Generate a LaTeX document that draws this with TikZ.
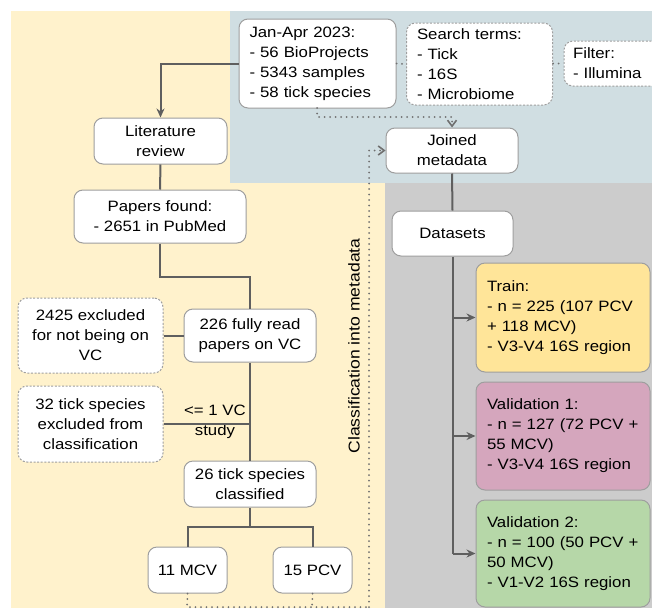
\documentclass[tikz,border=0pt]{standalone}
\usepackage{fontspec}
\setmainfont{Liberation Sans}[FakeStretch=1.12]
\usetikzlibrary{arrows.meta}
\definecolor{bgyellow}{HTML}{FFF2CC}
\definecolor{bgblue}{HTML}{D0DEE2}
\definecolor{bggray}{HTML}{CCCCCC}
\definecolor{linecol}{HTML}{5F5F5F}
\definecolor{bordercol}{HTML}{9E9E9E}
\definecolor{dotcol}{HTML}{707070}
\definecolor{trainfill}{HTML}{FFE599}
\definecolor{valonefill}{HTML}{D5A6BD}
\definecolor{valtwofill}{HTML}{B6D7A8}
\begin{document}
\begin{tikzpicture}[x=1pt,y=-1pt,
  every node/.style={font=\fontsize{15}{20}\selectfont},
  box/.style={draw=bordercol, fill=white, line width=1, rounded corners=9,
    inner sep=0, align=center},
  dbox/.style={box, dash pattern=on 2 off 1.6},
  lbox/.style={box, align=left, text width=#1, inner xsep=10.5},
  flow/.style={draw=linecol, line width=2},
  flowarrow/.style={flow, -{Stealth[length=9, width=8]}},
  dots/.style={draw=dotcol, line width=2, line cap=round, dash pattern=on 0 off 5.5},
  dotarrow/.style={dots, -{Straight Barb[length=6, width=9, line width=1.6]}}
]
\useasboundingbox (0,0) rectangle (652,608);
\fill[bgyellow] (11,11) rectangle (385,608);
\fill[bgblue] (230,11) rectangle (652,183);
\fill[bggray] (385,183) rectangle (652,608);

% top row
\node[lbox=136, minimum height=89] (jan) at (317.5,63.5)
  {Jan-Apr 2023:\\- 56 BioProjects\\- 5343 samples\\- 58 tick species};
\node[lbox=125, minimum height=82, dash pattern=on 2 off 1.6] (search) at (479.5,64)
  {Search terms:\\- Tick\\- 16S\\- Microbiome};
\node[lbox=82, minimum height=45, dash pattern=on 2 off 1.6, inner xsep=9] (filter) at (614,63.5)
  {Filter:\\- Illumina};
\node[box, minimum width=132, minimum height=45] (joined) at (452,150.5) {Joined\\metadata};

% literature branch
\node[box, minimum width=133, minimum height=46] (lit) at (160.5,141) {Literature\\review};
\node[box, minimum width=172, minimum height=53] (papers) at (160,216.5) {Papers found:\\- 2651 in PubMed};
\node[box, minimum width=132, minimum height=53] (read) at (250,335.5) {226 fully read\\papers on VC};
\node[dbox, minimum width=145, minimum height=75] (excla) at (90.5,335.5) {2425 excluded\\for not being on\\VC};
\node[dbox, minimum width=145, minimum height=76] (exclb) at (90.5,424) {32 tick species\\excluded from\\classification};
\node[box, minimum width=132, minimum height=46] (tick) at (250,484) {26 tick species\\classified};
\node[box, minimum width=79, minimum height=46] (mcv) at (187.5,570) {11 MCV};
\node[box, minimum width=79, minimum height=46] (pcv) at (312.5,570) {15 PCV};
\node (vclabel) at (215,421.5) [align=center, inner sep=0] {<= 1 VC\\study};
\node (classlabel) at (354,346) [rotate=90, inner sep=0, font=\fontsize{15.7}{20}\selectfont] {Classification into metadata};

% datasets
\node[box, minimum width=121, minimum height=45] (datasets) at (452.5,233.5) {Datasets};
\node[lbox=152, minimum height=109, fill=trainfill, inner xsep=11] (train) at (563,317.5)
  {Train:\\- n = 225 (107 PCV\\+ 118 MCV)\\- V3-V4 16S region};
\node[lbox=152, minimum height=108, fill=valonefill, inner xsep=11] (valone) at (563,436)
  {Validation 1:\\- n = 127 (72 PCV +\\55 MCV)\\- V3-V4 16S region};
\node[lbox=152, minimum height=107, fill=valtwofill, inner xsep=11] (valtwo) at (563,553.5)
  {Validation 2:\\- n = 100 (50 PCV +\\50 MCV)\\- V1-V2 16S region};

% coordinates
\coordinate (papersbend) at (160,277);
\coordinate (tickbend) at (250,527);
\coordinate (janout) at (317,108);
\coordinate (janbend) at (317,117);
\coordinate (mcvdown) at (187,607);
\coordinate (pcvdown) at (312,607);
\coordinate (classbottom) at (369,607);
\coordinate (classtop) at (369,150.5);
\coordinate (dsend) at (452.5,553.5);

% solid connectors
\draw[flowarrow] (jan.west) -| (lit.north);
\draw[flow] (lit.south) -- (papers.north);
\draw[flow] (papers.south) -- (papersbend) -| (read.north);
\draw[flow] (excla.east) -- (read.west);
\draw[flow] (read.south) -- (tick.north);
\draw[flow] (exclb.east) -- (read.south |- exclb.east);
\draw[flow] (tick.south) -- (tickbend) -| (mcv.north);
\draw[flow] (tickbend) -| (pcv.north);
\draw[flow] (joined.south) -- (datasets.north);
\draw[flow] (datasets.south) -- (dsend);
\draw[flowarrow] (datasets.south |- train.west) -- (train.west);
\draw[flowarrow] (datasets.south |- valone.west) -- (valone.west);
\draw[flowarrow] (dsend) -- (valtwo.west);

% dotted connectors
\draw[dots] (jan.east) -- (search.west);
\draw[dots] (search.east |- filter.west) -- (filter.west);
\draw[dotarrow] (janout) -- (janbend) -| (joined.north);
\draw[dots] (mcv.south) -- (mcvdown) -- (classbottom);
\draw[dots] (pcv.south) -- (pcvdown);
\draw[dotarrow] (classbottom) -- (classtop) -- (joined.west);
\end{tikzpicture}
\end{document}
